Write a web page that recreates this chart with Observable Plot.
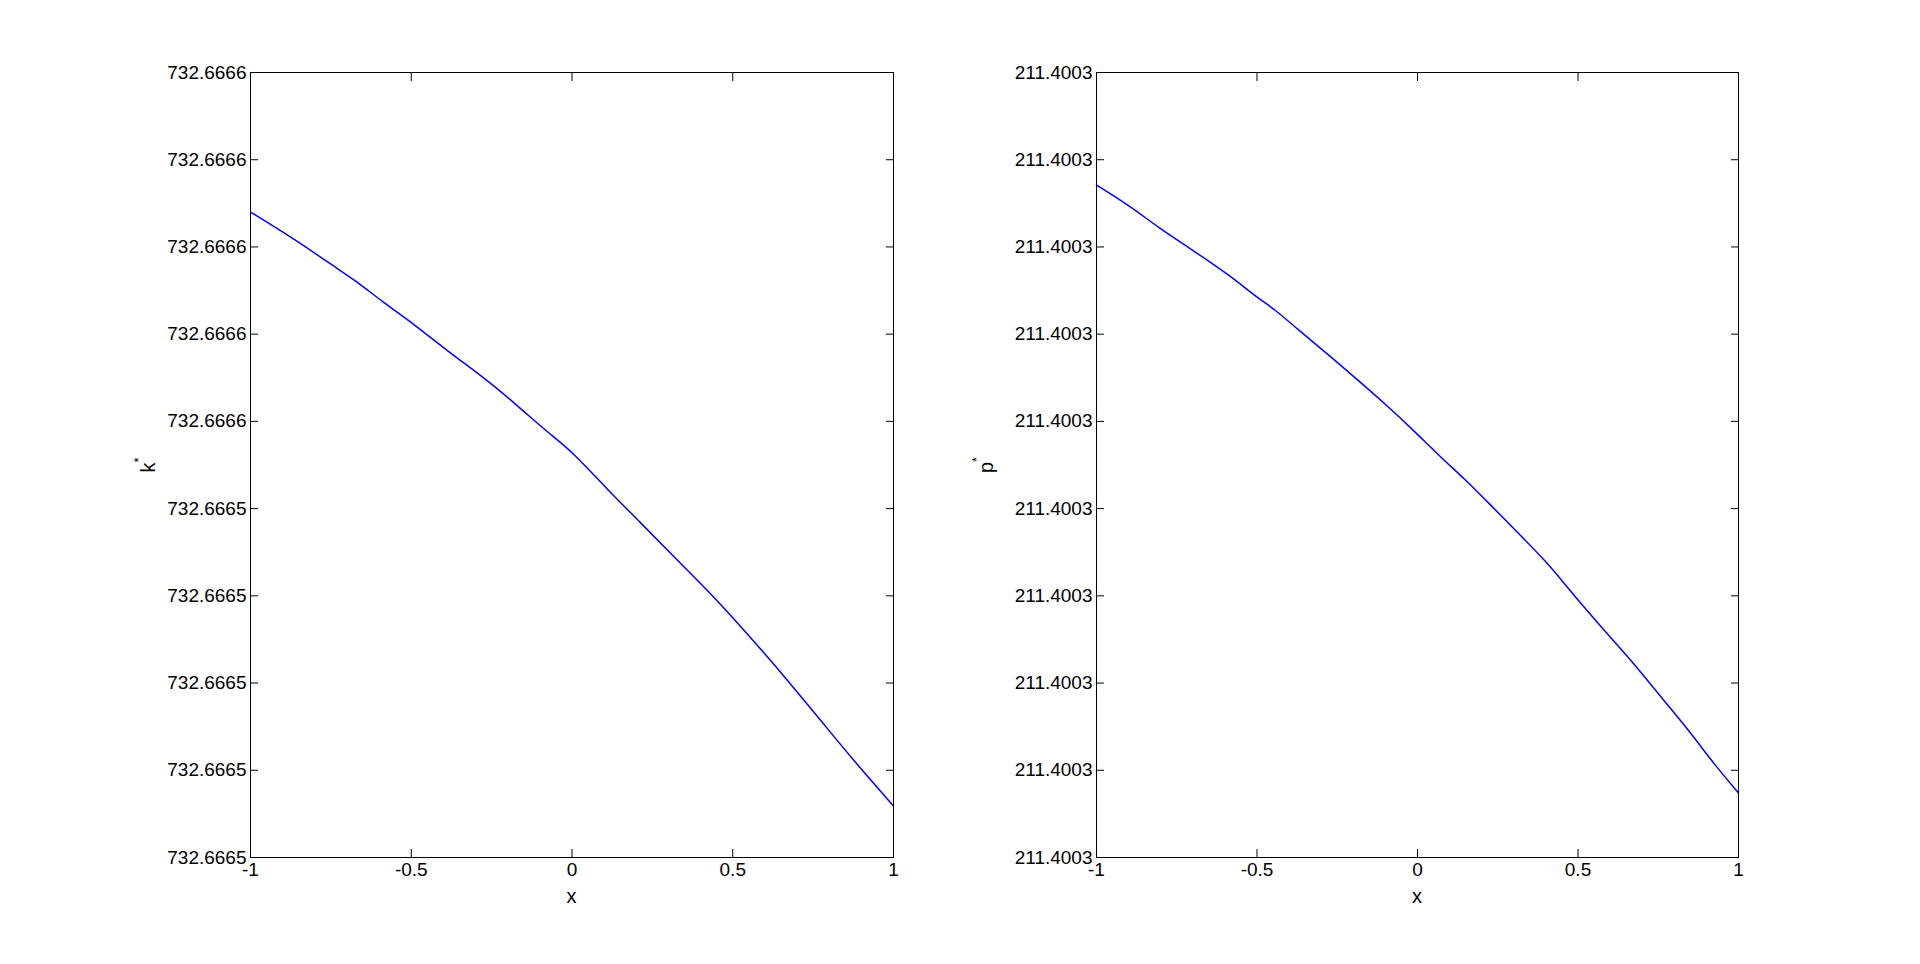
<!DOCTYPE html>
<html><head><meta charset="utf-8">
<script src="https://cdn.jsdelivr.net/npm/d3@7"></script>
<script src="https://cdn.jsdelivr.net/npm/@observablehq/plot@0.6"></script>
<style>
html,body{margin:0;padding:0;background:#fff;}
#wrap{position:relative;width:1920px;height:964px;overflow:hidden;background:#fff;}
#wrap svg{position:absolute;top:0;}
</style></head><body><div id="wrap"></div>
<script>
// x axis (shared)
const xTicks = [-1, -0.5, 0, 0.5, 1];
const xTickLabels = ["-1", "-0.5", "0", "0.5", "1"];
const xLabel = "x";

// left panel: k*
const kX = [-1, -0.859, -0.742, -0.671, -0.586, -0.5, -0.371, -0.273, -0.163, -0.078, 0, 0.117, 0.208, 0.319, 0.430, 0.5, 0.599, 0.664, 0.794, 0.872, 1];
const kY = [732.666574, 732.6665708, 732.6665678, 732.6665661, 732.6665636, 732.6665614, 732.6665576, 732.6665550, 732.6665516, 732.6665488, 732.6665466, 732.6665419, 732.6665386, 732.6665344, 732.6665303, 732.6665275, 732.6665234, 732.6665206, 732.6665148, 732.6665113, 732.6665059];
const kTicks = [732.66650, 732.66651, 732.66652, 732.66653, 732.66654, 732.66655, 732.66656, 732.66657, 732.66658, 732.66659];
const kTickLabels = ["732.6665", "732.6665", "732.6665", "732.6665", "732.6665", "732.6666", "732.6666", "732.6666", "732.6666", "732.6666"];
const kLabel = "k";

// right panel: p*
const pX = [-1, -0.892, -0.807, -0.703, -0.632, -0.573, -0.5, -0.443, -0.378, -0.273, -0.163, -0.104, -0.013, 0.072, 0.150, 0.228, 0.319, 0.404, 0.462, 0.5, 0.599, 0.664, 0.781, 0.853, 0.924, 1];
const pY = [211.4003271, 211.4003246, 211.4003222, 211.4003197, 211.4003179, 211.4003164, 211.4003142, 211.4003128, 211.4003107, 211.4003075, 211.4003040, 211.4003021, 211.4002990, 211.4002959, 211.4002933, 211.4002904, 211.4002870, 211.4002838, 211.4002812, 211.4002795, 211.4002753, 211.4002727, 211.4002674, 211.4002642, 211.4002607, 211.4002574];
const pTicks = [211.40025, 211.40026, 211.40027, 211.40028, 211.40029, 211.40030, 211.40031, 211.40032, 211.40033, 211.40034];
const pTickLabels = ["211.4003", "211.4003", "211.4003", "211.4003", "211.4003", "211.4003", "211.4003", "211.4003", "211.4003", "211.4003"];
const pLabel = "p";
const labelSup = "*";

function lookup(ticks, labels) {
  return d => {
    const i = ticks.findIndex(t => Math.abs(t - d) < 1e-9);
    return i < 0 ? "" : labels[i];
  };
}

function panel(cfg) {
  const data = cfg.xs.map((x, i) => ({x, y: cfg.ys[i]}));
  const yDomain = [cfg.yTicks[0], cfg.yTicks[cfg.yTicks.length - 1]];
  const plot = Plot.plot({
    width: 960, height: 964,
    marginTop: 72, marginBottom: 107,
    marginLeft: cfg.marginLeft, marginRight: cfg.marginRight,
    style: {fontFamily: "'Liberation Sans', Arial, sans-serif", fontSize: "19px", background: "white", color: "black"},
    x: {domain: [-1, 1]},
    y: {domain: yDomain},
    marks: [
      Plot.line(data, {x: "x", y: "y", stroke: "#0000ff", strokeWidth: 1.5, curve: "basis"}),
      Plot.frame({stroke: "black", strokeWidth: 1}),
      Plot.axisX({anchor: "bottom", ticks: xTicks, tickSize: 0, tickPadding: 5, tickFormat: lookup(xTicks, xTickLabels), label: null}),
      Plot.axisX({anchor: "bottom", ticks: xTicks, tickSize: -8, fill: "none", tickFormat: () => "", label: null}),
      Plot.axisX({anchor: "top", ticks: xTicks, tickSize: -8, fill: "none", tickFormat: () => "", label: null}),
      Plot.axisY({anchor: "left", ticks: cfg.yTicks, tickSize: 0, tickPadding: 4, tickFormat: lookup(cfg.yTicks, cfg.yTickLabels), label: null}),
      Plot.axisY({anchor: "left", ticks: cfg.yTicks, tickSize: -8, fill: "none", tickFormat: () => "", label: null}),
      Plot.axisY({anchor: "right", ticks: cfg.yTicks, tickSize: -8, fill: "none", tickFormat: () => "", label: null})
    ]
  });
  const svg = d3.select(plot);
  const cx = cfg.marginLeft + (960 - cfg.marginLeft - cfg.marginRight) / 2;
  svg.append("text")
    .attr("x", cx).attr("y", 903)
    .attr("text-anchor", "middle")
    .style("font-size", "20px").attr("fill", "black")
    .text(xLabel);
  const yl = svg.append("text")
    .attr("transform", `translate(${cfg.yLabelX},465) rotate(-90)`)
    .attr("text-anchor", "middle")
    .style("font-size", "20px").attr("fill", "black");
  yl.append("tspan").text(cfg.yLabel);
  yl.append("tspan").attr("dy", -12).style("font-size", "13px").text(labelSup);
  plot.style.left = cfg.left + "px";
  return plot;
}

const wrap = document.getElementById("wrap");
wrap.appendChild(panel({xs: kX, ys: kY, yTicks: kTicks, yTickLabels: kTickLabels, yLabel: kLabel, marginLeft: 250, marginRight: 67, yLabelX: 155, left: 0}));
wrap.appendChild(panel({xs: pX, ys: pY, yTicks: pTicks, yTickLabels: pTickLabels, yLabel: pLabel, marginLeft: 136, marginRight: 182, yLabelX: 33, left: 960}));
</script>
</body></html>
